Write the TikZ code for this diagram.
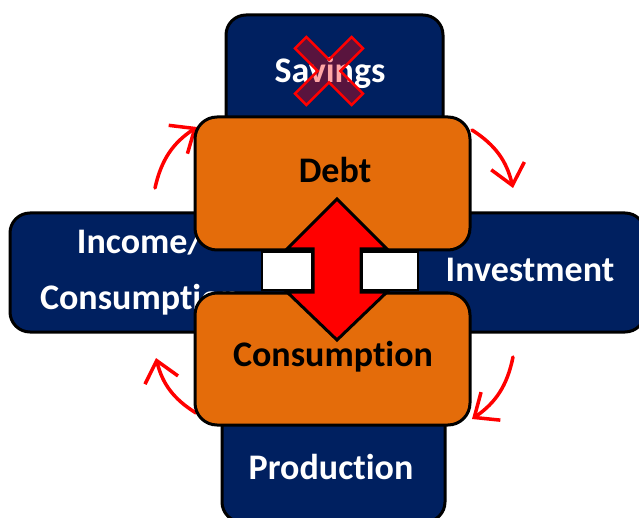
\documentclass[tikz,border=0pt]{standalone}
\usepackage{fontspec}
\setmainfont{Carlito}[Ligatures={NoCommon}]
\usetikzlibrary{arrows.meta}
\definecolor{navy}{RGB}{0,32,96}
\definecolor{orng}{RGB}{228,108,10}
\tikzset{
  bluebox/.style={draw=black, line width=3pt, fill=navy, rounded corners=20pt, inner sep=0pt},
  orangebox/.style={draw=black, line width=3pt, fill=orng, rounded corners=22pt, inner sep=0pt},
  wlabel/.style={text=white, font=\fontsize{36}{40}\selectfont\bfseries, inner sep=0pt},
  blabel/.style={text=black, font=\fontsize{36}{40}\selectfont\bfseries, inner sep=0pt},
  cyc/.style={draw=red, line width=3.5pt, line cap=round, -{Straight Barb[length=20pt,width=34pt,line width=3.5pt]}, bend left=22},
  gap/.style={draw=black, line width=2pt, fill=white, inner sep=0pt}
}
\begin{document}
\begin{tikzpicture}[x=1pt,y=-1pt]
\useasboundingbox (0,0) rectangle (639,518);
% blue boxes
\node[bluebox, minimum width=217pt, minimum height=215pt] (sav) at (334.5,122.5) {};
\node[bluebox, minimum width=223pt, minimum height=127pt] (prod) at (333.5,458.5) {};
\node[bluebox, minimum width=320pt, minimum height=119pt] (inc) at (170,272.5) {};
\node[bluebox, minimum width=300pt, minimum height=119pt] (inv) at (495,272.5) {};
\node[wlabel] (savt) at (330,73) {Savings};
\node[wlabel] (prodt) at (331,467) {Production};
\node[wlabel] (inct1) at (140,242) {Income/};
\node[wlabel] (inct2) at (140,300) {Consumption};
\node[wlabel] (invt) at (530,270) {Investment};
% cross over savings
\begin{scope}[shift={(329,71)}, rotate=45]
\fill[red, opacity=0.35] (8,40) -- (8,8) -- (40,8) -- (40,-8) -- (8,-8) -- (8,-40) -- (-8,-40) -- (-8,-8) -- (-40,-8) -- (-40,8) -- (-8,8) -- (-8,40) -- cycle;
\draw[red, line width=2.5pt, line join=miter] (8,40) -- (8,8) -- (40,8) -- (40,-8) -- (8,-8) -- (8,-40) -- (-8,-40) -- (-8,-8) -- (-40,-8) -- (-40,8) -- (-8,8) -- (-8,40) -- cycle;
\end{scope}
% cycle arrows
\coordinate (a1s) at (155,188); \coordinate (a1e) at (197,127);
\coordinate (a2s) at (472,130); \coordinate (a2e) at (513,188);
\coordinate (a3s) at (513,357); \coordinate (a3e) at (472,419);
\coordinate (a4s) at (196,413); \coordinate (a4e) at (156,358);
\draw[cyc] (a1s) to (a1e);
\draw[cyc] (a2s) to (a2e);
\draw[cyc] (a3s) to (a3e);
\draw[cyc] (a4s) to (a4e);
% orange boxes
\node[orangebox, minimum width=275pt, minimum height=133pt] (debt) at (332.5,183.5) {};
\node[orangebox, minimum width=275pt, minimum height=132pt] (cons) at (332.5,359) {};
\node[blabel] (debtt) at (335,170) {Debt};
\node[blabel] (const) at (333,357) {Consumption};
% red double arrow
\draw[black, line width=3pt, fill=red, line join=miter] (337,199) -- (387,249) -- (361,249) -- (361,292) -- (387,292) -- (337,340) -- (287,292) -- (313,292) -- (313,249) -- (287,249) -- cycle;
% white gaps
\node[gap, minimum width=50pt, minimum height=38pt] (g1) at (287,271) {};
\node[gap, minimum width=56pt, minimum height=38pt] (g2) at (390,271) {};
\end{tikzpicture}
\end{document}
